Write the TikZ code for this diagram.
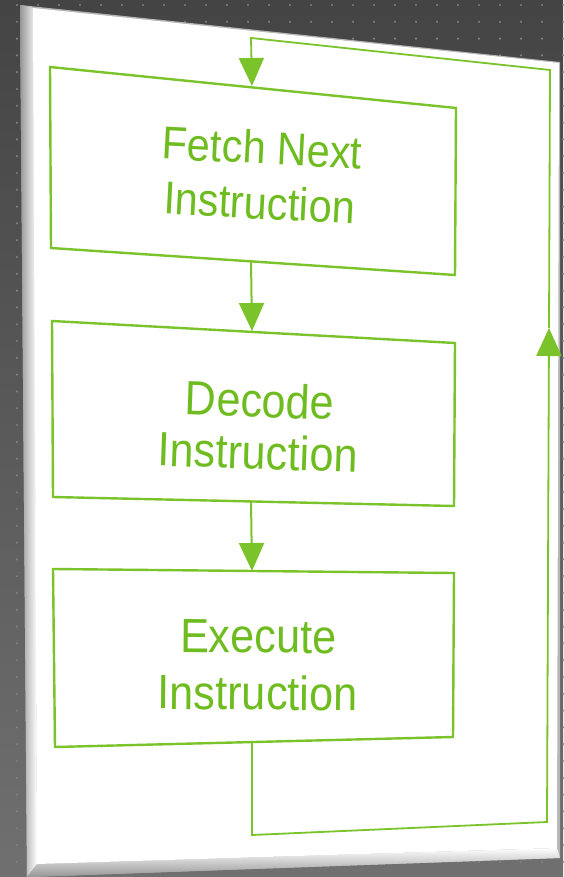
\documentclass[tikz,border=0pt]{standalone}
\usepackage{fontspec}
\setmainfont{Liberation Sans}
\newfontfamily\narrowsans[FakeStretch=0.9]{Liberation Sans}
\usetikzlibrary{arrows.meta}
\definecolor{gline}{RGB}{122,195,42}
\definecolor{gtext}{RGB}{110,188,32}
\definecolor{bgtop}{RGB}{68,68,68}
\definecolor{bgbot}{RGB}{112,112,112}
\definecolor{dotc}{RGB}{128,128,128}
\definecolor{bevel}{RGB}{150,150,150}
\begin{document}
\begin{tikzpicture}[x=1pt,y=-1pt,
  boxline/.style={draw=gline,line width=2.4pt,line join=miter},
  flow/.style={draw=gline,line width=2pt,-{Triangle[length=28pt,width=25pt]}},
  loopline/.style={draw=gline,line width=1.8pt,line join=miter},
  label/.style={text=gtext,align=center,inner sep=0pt}]
\useasboundingbox (0,0) rectangle (563,877);
% background
\shade[top color=bgtop,bottom color=bgbot] (0,0) rectangle (563,877);
\foreach \i in {0,...,26}{
  \foreach \j in {0,...,52}{
    \fill[dotc] ({17+21*\i},{5+16.8*\j}) circle (1.2pt);
  }
}
% sheet with bevel
\fill[bevel!70] (20,5) -- (560,62) -- (560,858) -- (27,877) -- cycle;
\shade[left color=bevel,right color=white] (20,5) -- (34,8) -- (37,864) -- (27,877) -- cycle;
\shade[top color=white,bottom color=bevel] (37,864) -- (557,848) -- (560,858) -- (27,877) -- cycle;
\fill[white] (33,8) -- (559,63) -- (557,848) -- (37,864) -- cycle;
% box corners
\coordinate (b1tl) at (50,67);  \coordinate (b1tr) at (456,108);
\coordinate (b1br) at (455,275); \coordinate (b1bl) at (51,248);
\coordinate (b2tl) at (52,321);  \coordinate (b2tr) at (455,343);
\coordinate (b2br) at (454,506); \coordinate (b2bl) at (53,497);
\coordinate (b3tl) at (53,569);  \coordinate (b3tr) at (454,573);
\coordinate (b3br) at (453,737); \coordinate (b3bl) at (55,747);
% connection points on the boxes
\coordinate (b1top) at (252,86);  \coordinate (b1bot) at (251,261);
\coordinate (b2top) at (252,331); \coordinate (b2bot) at (251,501);
\coordinate (b3top) at (252,571); \coordinate (b3bot) at (252,742);
% loop corners
\coordinate (c1) at (252,835);
\coordinate (c2) at (547,822);
\coordinate (cm) at (549,328);
\coordinate (c3) at (550,70);
\coordinate (c4) at (251,38);
% boxes
\draw[boxline] (b1tl) -- (b1tr) -- (b1br) -- (b1bl) -- cycle;
\draw[boxline] (b2tl) -- (b2tr) -- (b2br) -- (b2bl) -- cycle;
\draw[boxline] (b3tl) -- (b3tr) -- (b3br) -- (b3bl) -- cycle;
% labels
\node[label,rotate=-3,font=\narrowsans\fontsize{46}{55}\selectfont] (fetch) at (261,175) {Fetch Next\\Instruction};
\node[label,rotate=-2,font=\narrowsans\fontsize{48}{52}\selectfont] (decode) at (259,426) {Decode\\Instruction};
\node[label,rotate=-0.5,font=\narrowsans\fontsize{48}{57}\selectfont] (execute) at (258,665) {Execute\\Instruction};
% connectors
\draw[flow] (b1bot) -- (b2top);
\draw[flow] (b2bot) -- (b3top);
\draw[loopline,-{Triangle[length=28pt,width=25pt]}] (b3bot) -- (c1) -- (c2) -- (cm);
\draw[loopline,-{Triangle[length=28pt,width=25pt]}] (cm) -- (c3) -- (c4) -- (b1top);
\end{tikzpicture}
\end{document}
